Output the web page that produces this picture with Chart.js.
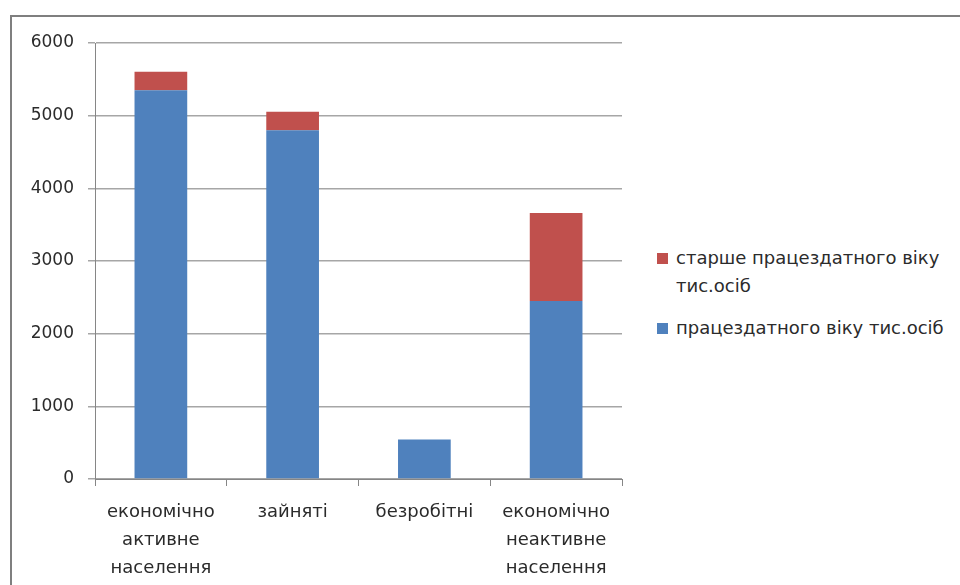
<!DOCTYPE html>
<html>
<head>
<meta charset="utf-8">
<script src="https://cdn.jsdelivr.net/npm/chart.js@4/dist/chart.umd.min.js"></script>
<style>
  html, body { margin: 0; padding: 0; background: #fff; }
  body { width: 960px; height: 585px; position: relative; overflow: hidden; font-family: "DejaVu Sans", sans-serif; }
  #frame { position: absolute; left: 10px; top: 15px; width: 980px; height: 600px; border: 2px solid #7f7f7f; box-sizing: border-box; }
  #wrap { position: absolute; left: 0; top: 0; width: 640px; height: 585px; }
  #legend { position: absolute; left: 657px; top: 244px; font-size: 18px; color: #2b2b2b; line-height: 28px; }
  #legend .item { display: flex; align-items: flex-start; margin-bottom: 14px; }
  #legend .box { width: 11px; height: 11px; margin: 9px 8px 0 0; flex: none; }
</style>
</head>
<body>
<div id="frame"></div>
<div id="wrap"><canvas id="chart"></canvas></div>
<div id="legend"></div>
<script>
  const categories = [
    ["економічно", "активне", "населення"],
    ["зайняті"],
    ["безробітні"],
    ["економічно", "неактивне", "населення"]
  ];
  const workingAge = [5350, 4800, 545, 2450];
  const olderAge = [255, 255, 0, 1210];
  const seriesLabels = ["працездатного віку тис.осіб", "старше працездатного віку тис.осіб"];
  const seriesColors = ["#4f81bd", "#c0504d"];
  const yTicks = [0, 1000, 2000, 3000, 4000, 5000, 6000];

  const ctx = document.getElementById("chart").getContext("2d");
  const chart = new Chart(ctx, {
    type: "bar",
    data: {
      labels: categories,
      datasets: [
        { label: seriesLabels[0], data: workingAge, backgroundColor: seriesColors[0] },
        { label: seriesLabels[1], data: olderAge, backgroundColor: seriesColors[1] }
      ]
    },
    options: {
      responsive: true,
      maintainAspectRatio: false,
      animation: false,
      layout: { padding: { top: 43, right: 18, left: 0, bottom: 0 } },
      datasets: { bar: { categoryPercentage: 0.8, barPercentage: 0.5 } },
      plugins: { legend: { display: false }, tooltip: { enabled: false } },
      scales: {
        x: {
          stacked: true,
          afterFit: (s) => { s.height = 106; },
          border: { color: "#868686", width: 1 },
          grid: { drawOnChartArea: false, drawTicks: true, tickLength: 7, color: "#868686", offset: true },
          ticks: { color: "#2b2b2b", font: { family: "DejaVu Sans", size: 18, lineHeight: 1.556 }, padding: 12, maxRotation: 0 }
        },
        y: {
          stacked: true,
          min: 0,
          max: 6000,
          afterFit: (s) => { s.width = 95; },
          afterBuildTicks: (s) => { s.ticks = yTicks.map((v) => ({ value: v })); },
          border: { color: "#868686", width: 1 },
          grid: { color: "#a6a6a6", lineWidth: 1.5, tickLength: 7 },
          ticks: {
            color: "#2b2b2b",
            font: { family: "DejaVu Sans", size: 17 },
            padding: 14,
            callback: (v) => String(v)
          }
        }
      }
    }
  });

  // legend, top item is the upper series
  const legend = document.getElementById("legend");
  [1, 0].forEach((i) => {
    const item = document.createElement("div");
    item.className = "item";
    const box = document.createElement("span");
    box.className = "box";
    box.style.background = seriesColors[i];
    const text = document.createElement("span");
    text.innerHTML = i === 1 ? "старше працездатного віку<br>тис.осіб" : seriesLabels[i];
    item.appendChild(box);
    item.appendChild(text);
    legend.appendChild(item);
  });
</script>
</body>
</html>
